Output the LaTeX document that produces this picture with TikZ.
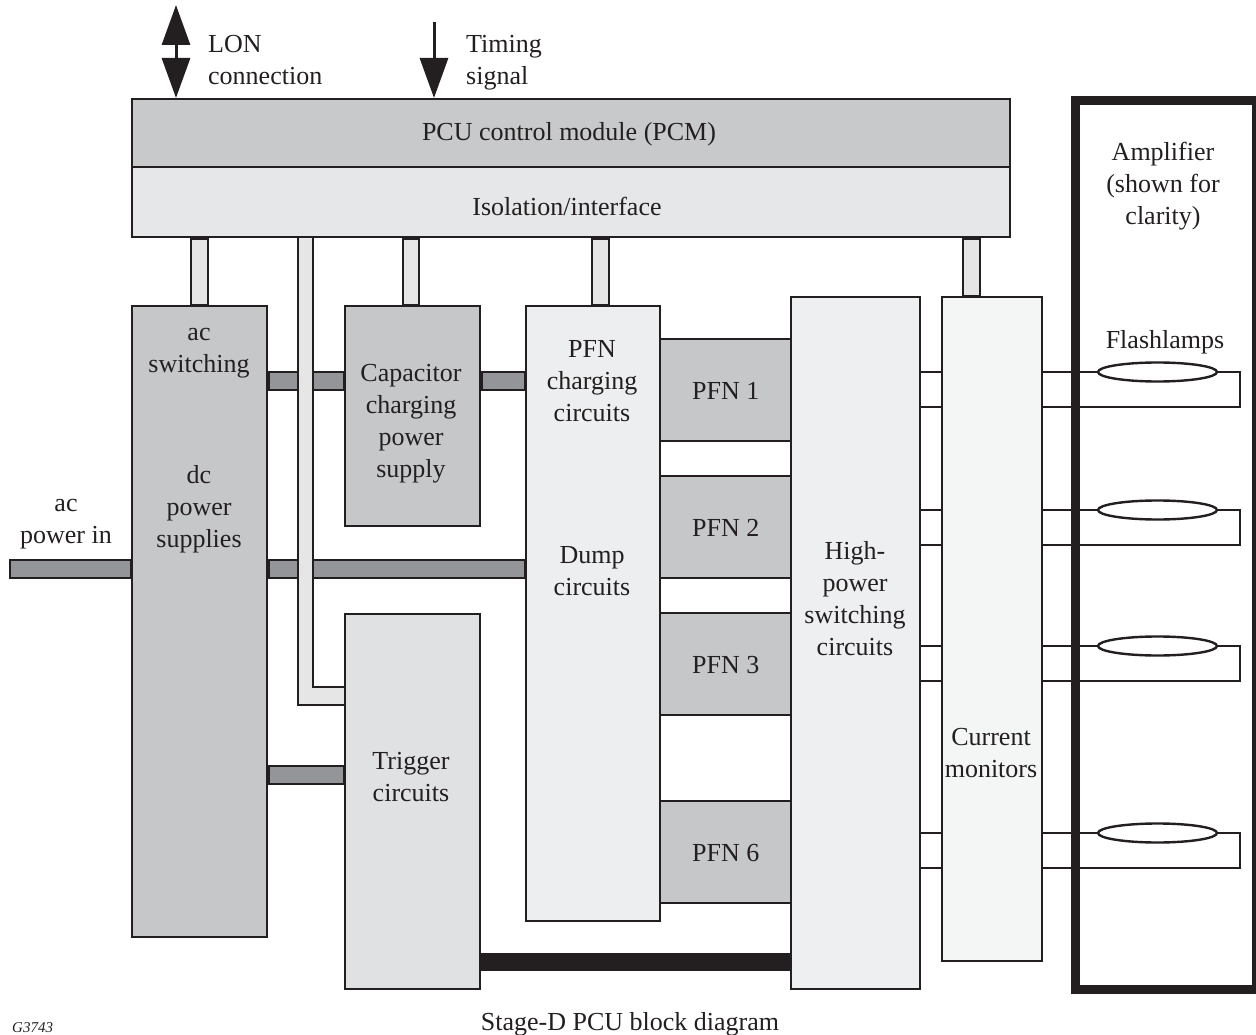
\documentclass[tikz,border=0pt]{standalone}
\usepackage{fontspec}
\setmainfont{Liberation Serif}
\usetikzlibrary{shapes.geometric,arrows.meta}
\definecolor{ink}{RGB}{35,31,32}
\definecolor{pcmgray}{RGB}{200,201,203}
\definecolor{isogray}{RGB}{230,231,232}
\definecolor{midgray}{RGB}{198,199,201}
\definecolor{lightgray}{RGB}{237,238,239}
\definecolor{triggray}{RGB}{224,225,227}
\definecolor{hpsgray}{RGB}{238,239,240}
\definecolor{cmgray}{RGB}{244,245,245}
\definecolor{stripgray}{RGB}{230,230,231}
\definecolor{bargray}{RGB}{147,149,152}
\pgfdeclarelayer{connlayer}
\pgfsetlayers{connlayer,main}
\begin{document}
\begin{tikzpicture}[x=1pt,y=-1pt,line join=miter,
  blk/.style={draw=ink,line width=2.4pt,inner sep=0pt,anchor=north west},
  lbl/.style={text=ink,font=\fontsize{26}{32}\selectfont,align=center,inner sep=0pt},
  strip/.style={draw=ink,line width=2.4pt,fill=stripgray},
  bar/.style={draw=ink,line width=2.4pt,fill=bargray},
  wire/.style={draw=ink,line width=2.4pt},
  lamp/.style={draw=ink,line width=2.4pt,ellipse,inner sep=0pt,minimum width=119pt,minimum height=19pt},
  bigtip/.tip={Triangle[length=40pt,width=28pt]}]
\useasboundingbox (0,0) rectangle (1256,1035);

% ---- boxes ----
\node[blk,fill=pcmgray,minimum width=878pt,minimum height=68pt] (pcm) at (131,98) {};
\node[blk,fill=isogray,minimum width=878pt,minimum height=70pt] (iso) at (131,166) {};
\node[blk,fill=midgray,minimum width=135pt,minimum height=631pt] (acdc) at (131,305) {};
\node[blk,fill=midgray,minimum width=135pt,minimum height=220pt] (cap) at (344,305) {};
\node[blk,fill=lightgray,minimum width=134pt,minimum height=615pt] (pfnc) at (525,305) {};
\node[blk,fill=triggray,minimum width=135pt,minimum height=375pt] (trig) at (344,613) {};
\node[blk,fill=hpsgray,minimum width=129pt,minimum height=692pt] (hps) at (790,296) {};
\node[blk,fill=cmgray,minimum width=100pt,minimum height=664pt] (cm) at (941,296) {};
\node[blk,fill=midgray,minimum width=131pt,minimum height=102pt] (pfn1) at (659,338) {};
\node[blk,fill=midgray,minimum width=131pt,minimum height=102pt] (pfn2) at (659,475) {};
\node[blk,fill=midgray,minimum width=131pt,minimum height=102pt] (pfn3) at (659,612) {};
\node[blk,fill=midgray,minimum width=131pt,minimum height=102pt] (pfn6) at (659,800) {};

\begin{pgfonlayer}{connlayer}
% ---- vertical isolation strips ----
\draw[strip] (191,0 |- iso.south) rectangle (208,0 |- acdc.north);
\draw[strip] (403,0 |- iso.south) rectangle (419,0 |- cap.north);
\draw[strip] (592,0 |- iso.south) rectangle (609,0 |- pfnc.north);
\draw[strip] (963,0 |- iso.south) rectangle (980,0 |- cm.north);

% ---- horizontal power bars ----
\draw[bar] (10,560) rectangle (acdc.west |- 0,578);
\draw[bar] (acdc.east |- 0,372) rectangle (cap.west |- 0,390);
\draw[bar] (cap.east |- 0,372) rectangle (pfnc.west |- 0,390);
\draw[bar] (acdc.east |- 0,560) rectangle (pfnc.west |- 0,578);
\draw[bar] (acdc.east |- 0,766) rectangle (trig.west |- 0,784);

% ---- trigger L strip ----
\fill[stripgray] (298,0 |- iso.south) -- (298,705) -- (trig.west |- 0,705) -- (trig.west |- 0,687) -- (313,687) -- (313,0 |- iso.south) -- cycle;
\draw[wire] (298,0 |- iso.south) -- (298,705) -- (trig.west |- 0,705);
\draw[wire] (313,0 |- iso.south) -- (313,687) -- (trig.west |- 0,687);

% ---- flashlamp wiring ----
\foreach \i/\y in {1/372,2/510,3/646,4/833}{
  \draw[wire] (hps.east |- 0,\y) -- (cm.west |- 0,\y);
  \draw[wire] (hps.east |- 0,\y+35) -- (cm.west |- 0,\y+35);
}
\end{pgfonlayer}

% ---- trigger to switching bus ----
\fill[ink] (trig.east |- 0,953) rectangle (hps.west |- 0,971);

% ---- flashlamps ----
\foreach \i/\y in {1/372,2/510,3/646,4/833}{
  \node[lamp] (lamp\i) at (1157.5,\y) {};
  \draw[wire] (cm.east |- lamp\i.west) -- (lamp\i.west);
  \draw[wire] (lamp\i.east) -- (1240,\y) -- (1240,\y+35) -- (cm.east |- 0,\y+35);
}

% ---- amplifier frame ----
\node[draw=ink,line width=9pt,inner sep=0pt,anchor=north west,minimum width=181pt,minimum height=888.5pt] (amp) at (1070.5,96) {};

% ---- top arrows ----
\coordinate (lontop) at (176,5);
\coordinate (timtop) at (434,22);
\draw[ink,line width=3pt,{bigtip}-{bigtip}] (lontop) -- (pcm.north -| lontop);
\draw[ink,line width=3pt,-{bigtip}] (timtop) -- (pcm.north -| timtop);

% ---- labels ----
\node[lbl,align=left,anchor=west] (lonl) at (208,60) {LON\\connection};
\node[lbl,align=left,anchor=west] (timl) at (466,63) {Timing\\signal};
\node[lbl] (pcmt) at (569,134) {PCU control module (PCM)};
\node[lbl] (isot) at (567,206) {Isolation/interface};
\node[lbl] (act) at (199,353) {ac\\switching};
\node[lbl] (dct) at (199,509) {dc\\power\\supplies};
\node[lbl] (acin) at (66,524) {ac\\power in};
\node[lbl] (capt) at (411,424) {Capacitor\\charging\\power\\supply};
\node[lbl] (pfnct) at (592,381) {PFN\\charging\\circuits};
\node[lbl] (dumpt) at (592,571) {Dump\\circuits};
\node[lbl] (p1t) at ([yshift=-1pt]pfn1.center) {PFN 1};
\node[lbl] (p2t) at ([yshift=-1pt]pfn2.center) {PFN 2};
\node[lbl] (p3t) at ([yshift=-1pt]pfn3.center) {PFN 3};
\node[lbl] (p6t) at ([yshift=-1pt]pfn6.center) {PFN 6};
\node[lbl] (hpst) at (855,599) {High-\\power\\switching\\circuits};
\node[lbl] (cmt) at (991,753) {Current\\monitors};
\node[lbl] (trigt) at (411,777) {Trigger\\circuits};
\node[lbl] (ampt) at (1163,186) {Amplifier\\(shown for\\clarity)};
\node[lbl] (flt) at (1165,342) {Flashlamps};
\node[lbl] (capline) at (630,1024) {Stage-D PCU block diagram};
\node[text=ink,font=\fontsize{15}{18}\selectfont\itshape,anchor=base west,inner sep=0pt] (gid) at (12,1032) {G3743};
\end{tikzpicture}
\end{document}
